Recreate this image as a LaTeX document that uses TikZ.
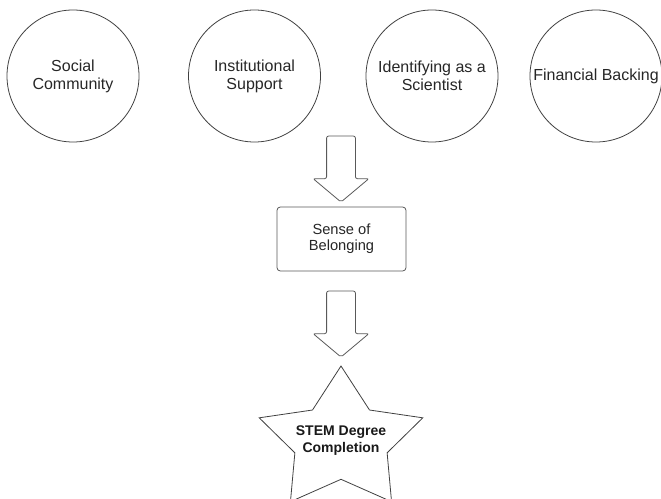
\documentclass[tikz,border=0pt]{standalone}
\usepackage{fontspec}
\setmainfont{Liberation Sans}
\usetikzlibrary{shapes.arrows}

\tikzset{
  factor/.style={circle, draw=black!75, line width=0.6pt, minimum size=99pt,
    inner sep=0pt, align=center, text=black!85,
    font=\fontsize{12}{13.5}\selectfont},
  stepbox/.style={rectangle, rounded corners=2.5pt, draw=black!65,
    line width=0.6pt, minimum width=96.75pt, minimum height=48pt,
    align=center, text=black!85, font=\fontsize{11}{12}\selectfont},
  blockarrow/.style={single arrow, draw=black!65, line width=0.6pt,
    rotate=-90, minimum height=49.5pt, inner sep=10.5pt,
    single arrow head extend=10.1pt, single arrow tip angle=100,
    rounded corners=1.5pt},
  starline/.style={draw=black!75, line width=0.6pt},
  goaltext/.style={align=center, text=black!90,
    font=\bfseries\fontsize{10.5}{12.75}\selectfont},
}

\begin{document}
\begin{tikzpicture}[x=0.75pt, y=-0.75pt]
%\draw[help lines, step=50] (0, 0) grid (661, 499);
\useasboundingbox (0, 0) rectangle (661, 499);

\pgfmathsetmacro\rowY{76};
\pgfmathsetmacro\midX{341};
\pgfmathsetmacro\starY{441};
\pgfmathsetmacro\outRx{86};
\pgfmathsetmacro\outRy{75};
\pgfmathsetmacro\inRx{48.5};
\pgfmathsetmacro\inRy{38.3};

% factors
\node [factor] (social) at (73, \rowY) {Social\\Community};
\node [factor] (support) at (254.5, \rowY) {Institutional\\Support};
\node [factor] (identity) at (432, \rowY) {Identifying as a\\Scientist};
\node [factor] (finance) at (596, \rowY) {Financial Backing};

% belonging
\node [blockarrow] (arrowA) at (\midX, 163) {};
\node [stepbox] (belong) at (\midX + 0.5, 239) {Sense of\\Belonging};
\node [blockarrow] (arrowB) at (\midX, 318) {};

% star
\draw [starline]
  (\midX, \starY - \outRy)
  \foreach \k in {1,...,9} {
    -- ({\midX + (mod(\k,2)==0 ? \outRx : \inRx)*cos(90+36*\k)},
        {\starY - (mod(\k,2)==0 ? \outRy : \inRy)*sin(90+36*\k)})
  } -- cycle;
\node [goaltext] (degree) at (\midX, \starY) {STEM Degree\\Completion};

\end{tikzpicture}
\end{document}
